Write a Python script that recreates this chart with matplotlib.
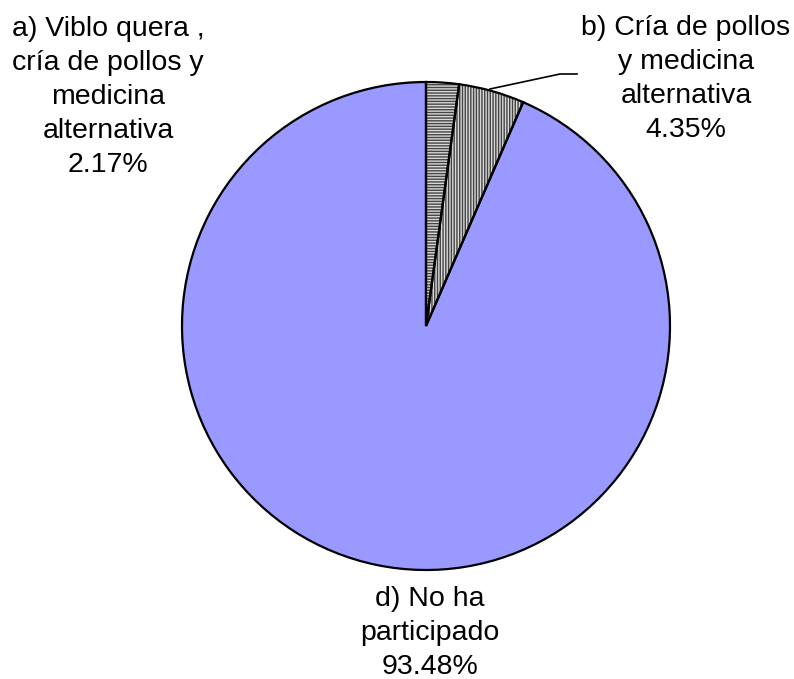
import matplotlib
matplotlib.use('Agg')
import matplotlib.pyplot as plt

plt.rcParams['font.family'] = ['Liberation Sans', 'DejaVu Sans']

# ———————— DATA ————————
labels = [
    'a) Viblo quera ,\ncría de pollos y\nmedicina\nalternativa\n2.17%',
    'b) Cría de pollos\ny medicina\nalternativa\n4.35%',
    'd) No ha\nparticipado\n93.48%',
]
values = [2.17, 4.35, 93.48]
hatches = ['------', '||||||', None]

W, H = 794, 679
CX, CY, R = 426, H - 326, 244

fig = plt.figure(figsize=(W / 100, H / 100), dpi=100)
ax = fig.add_axes([0, 0, 1, 1])

# filled wedges (no outline)
wedges, _ = ax.pie(values, startangle=90, counterclock=False,
                   center=(CX, CY), radius=R,
                   colors=['#d8d8d8', '#d8d8d8', '#9999ff'],
                   wedgeprops=dict(linewidth=0))
for w, h in zip(wedges, hatches):
    if h:
        w.set_hatch(h)
        w.set_edgecolor('#444444')

# outlines on top
ax.pie(values, startangle=90, counterclock=False,
       center=(CX, CY), radius=R,
       wedgeprops=dict(fill=False, edgecolor='black', linewidth=1.6))

ax.set_xlim(0, W)
ax.set_ylim(0, H)
ax.set_aspect('equal')
ax.axis('off')

fs = 20.5
ls = 1.39
ax.text(108, H - 97, labels[0], ha='center', va='center', fontsize=fs,
        linespacing=ls)
ax.text(686, H - 79, labels[1], ha='center', va='center', fontsize=fs,
        linespacing=ls)
ax.text(430, H - 633, labels[2], ha='center', va='center', fontsize=fs,
        linespacing=ls)

# leader line for b)
ax.plot([490, 560, 577], [H - 89, H - 74, H - 74], color='black', lw=1.2)

fig.savefig('out.png', dpi=100, facecolor='white')
